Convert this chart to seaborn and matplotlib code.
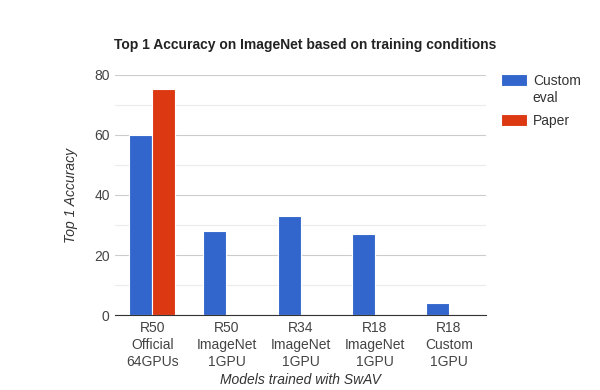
import pandas as pd
import matplotlib.pyplot as plt
import seaborn as sns

# datos
modelos = ['R50\nOfficial\n64GPUs', 'R50\nImageNet\n1GPU', 'R34\nImageNet\n1GPU',
           'R18\nImageNet\n1GPU', 'R18\nCustom\n1GPU']
custom_eval = [60, 28, 33, 27, 4]
paper = [75.2, 0, 0, 0, 0]
series = ['Custom\neval', 'Paper']

df = pd.DataFrame({
    'modelo': modelos * 2,
    'acc': custom_eval + paper,
    'serie': [series[0]] * len(modelos) + [series[1]] * len(modelos),
})

sns.set_style('white')
plt.rcParams['font.family'] = ['Liberation Sans', 'DejaVu Sans']

fig = plt.figure(figsize=(6, 3.9), dpi=100)
ax = fig.add_axes([0.192, 0.192, 0.618, 0.616])

sns.barplot(data=df, x='modelo', y='acc', hue='serie', ax=ax,
            palette=['#3366cc', '#dc3912'], width=0.62, saturation=1,
            edgecolor='white', linewidth=0.8, zorder=3)

ax.set_ylim(0, 80)
ax.set_yticks([0, 20, 40, 60, 80])
ax.set_yticks([10, 30, 50, 70], minor=True)
ax.grid(axis='y', which='major', color='#cccccc', linewidth=0.8, zorder=0)
ax.grid(axis='y', which='minor', color='#ebebeb', linewidth=0.8, zorder=0)
ax.set_axisbelow(True)
for s in ['top', 'right', 'left']:
    ax.spines[s].set_visible(False)
ax.spines['bottom'].set_color('#333333')
ax.spines['bottom'].set_zorder(5)
ax.tick_params(axis='both', which='both', length=0, labelsize=10, colors='#444444', pad=4)
ax.tick_params(axis='x', pad=4)
for t in ax.get_xticklabels():
    t.set_linespacing(1.3)

ax.set_xlabel('Models trained with SwAV', fontsize=10, style='italic', color='#333333', labelpad=3)
ax.set_ylabel('Top 1 Accuracy', fontsize=10, style='italic', color='#333333')
ax.yaxis.set_label_coords(-0.1, 0.5)
fig.text(0.19, 0.875, 'Top 1 Accuracy on ImageNet based on training conditions',
         fontsize=10, fontweight='bold', color='#222222')

leg = ax.legend(loc='upper left', bbox_to_anchor=(1.025, 1.025), frameon=False,
                fontsize=10, handlelength=1.9, handleheight=0.95, labelcolor='#333333',
                borderaxespad=0, labelspacing=0.7, handletextpad=0.4)
# alinear el cuadro de color con la primera línea del texto
for col in leg._legend_handle_box.get_children():
    for row in col.get_children():
        row.align = 'top'

plt.savefig('out.png', dpi=100)
